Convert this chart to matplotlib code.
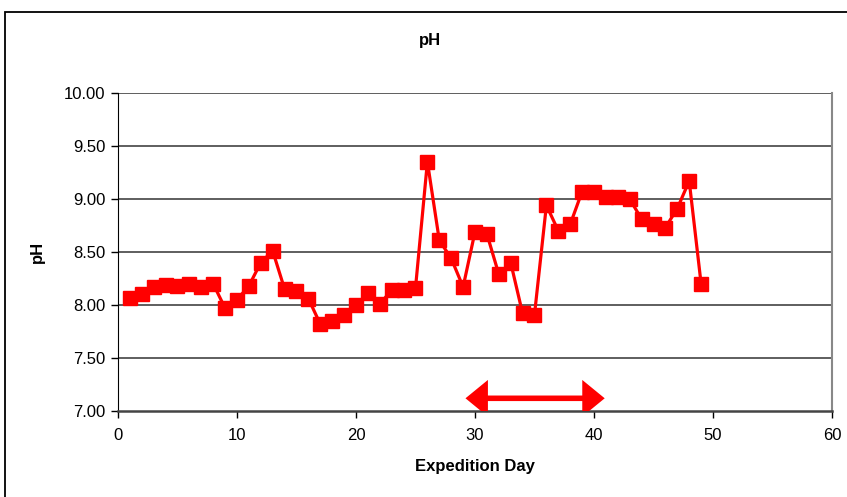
import matplotlib
matplotlib.use("Agg")
import matplotlib.pyplot as plt
from matplotlib.patches import Rectangle, FancyArrowPatch

plt.rcParams["font.family"] = ["Liberation Sans", "DejaVu Sans"]

# daily pH readings
days = list(range(1, 50))
ph = [8.07, 8.10, 8.17, 8.19, 8.18, 8.20, 8.17, 8.20, 7.97, 8.05,
      8.18, 8.40, 8.51, 8.15, 8.13, 8.06, 7.82, 7.85, 7.91, 8.00,
      8.11, 8.01, 8.14, 8.14, 8.16, 9.35, 8.61, 8.44, 8.17, 8.69,
      8.67, 8.29, 8.40, 7.92, 7.91, 8.94, 8.70, 8.76, 9.07, 9.07,
      9.02, 9.02, 9.00, 8.81, 8.76, 8.73, 8.91, 9.17, 8.20]

# span marked with the double arrow
span_start, span_end, span_y = 29.2, 40.9, 7.12

x_ticks = [0, 10, 20, 30, 40, 50, 60]
y_ticks = [7.00, 7.50, 8.00, 8.50, 9.00, 9.50, 10.00]

RED = "#ff0000"

fig = plt.figure(figsize=(8.47, 4.97), dpi=100, facecolor="white")
ax = fig.add_axes([0.1393, 0.173, 0.8430, 0.6400])

# chart-area border
fig.patches.append(Rectangle((0.006, -0.1), 1.2, 1.076, transform=fig.transFigure,
                             fill=False, edgecolor="black", lw=1.3, zorder=0))

ax.plot(days, ph, color=RED, lw=2.3, marker="s", markersize=9.5,
        markeredgecolor=RED, markerfacecolor=RED, zorder=3, clip_on=False)

arrow = FancyArrowPatch((span_start, span_y), (span_end, span_y),
                        arrowstyle="<|-|>,head_length=0.55,head_width=0.45",
                        mutation_scale=20, color=RED, lw=4, zorder=4,
                        shrinkA=0, shrinkB=0, joinstyle="miter", capstyle="butt")
ax.add_patch(arrow)

ax.set_xlim(0, 60)
ax.set_ylim(7.0, 10.0)
ax.set_xticks(x_ticks)
ax.set_yticks(y_ticks)
ax.set_yticklabels([f"{v:.2f}" for v in y_ticks])
ax.tick_params(axis="both", direction="out", length=5, width=1,
               labelsize=12, colors="black", pad=4)
ax.tick_params(axis="x", pad=7)

for v in y_ticks[1:]:
    ax.axhline(v, color="#333333", lw=1.1, zorder=1)

ax.spines["left"].set_color("black")
ax.spines["bottom"].set_color("#444444")
ax.spines["bottom"].set_linewidth(1.8)
ax.spines["top"].set_visible(False)
ax.spines["right"].set_color("#888888")
ax.spines["right"].set_linewidth(1.5)

ax.set_xlabel("Expedition Day", fontsize=12, fontweight="bold", labelpad=12)
ax.set_ylabel("pH", fontsize=12, fontweight="bold", labelpad=14)
fig.text(0.508, 0.918, "pH", ha="center", va="center",
         fontsize=12, fontweight="bold")

fig.savefig("out.png", dpi=100, facecolor="white")
